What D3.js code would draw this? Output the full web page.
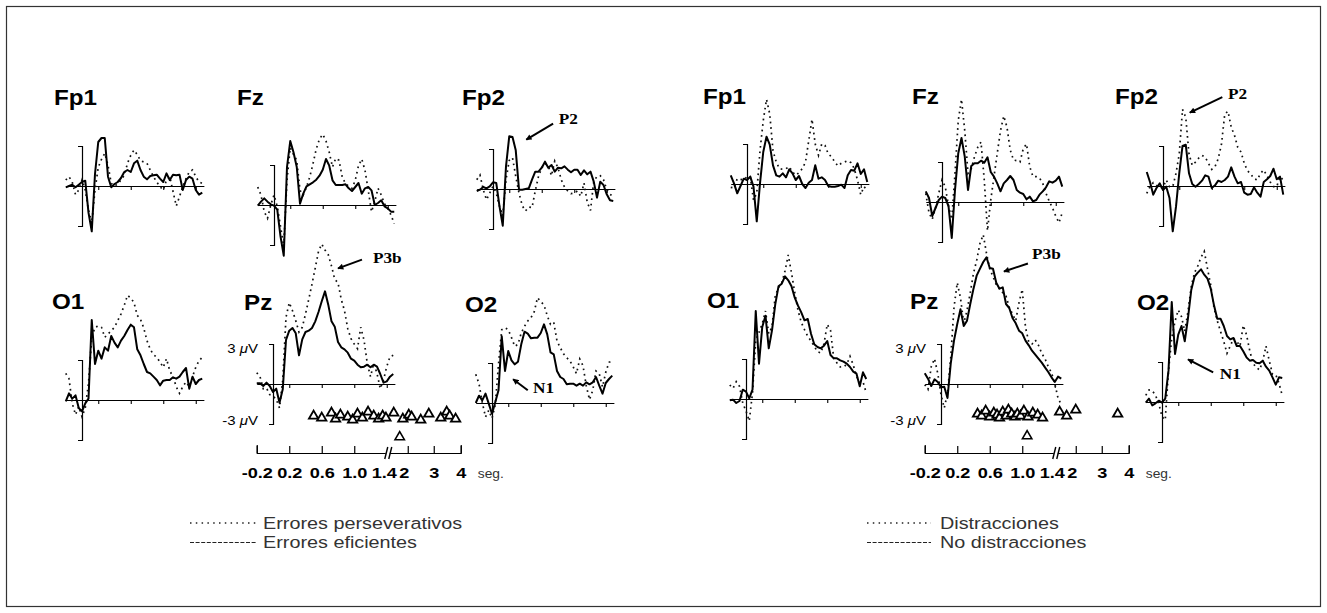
<!DOCTYPE html>
<html>
<head>
<meta charset="utf-8">
<script src="https://cdn.jsdelivr.net/npm/d3@7"></script>
<style>
  body { margin: 0; background: #fff; }
  svg { display: block; }
</style>
</head>
<body>
<script>
// sample times of the averaged waveforms (s)
var sampleTimes = [-0.2,-0.16,-0.12,-0.08,-0.04,0,0.04,0.08,0.12,0.16,0.2,0.24,0.28,0.32,0.36,0.4,0.44,0.48,0.52,0.56,0.6,0.64,0.68,0.72,0.76,0.8,0.84,0.88,0.92,0.96,1.0,1.04,1.08,1.12,1.16,1.2,1.24,1.28,1.32,1.36,1.4,1.44,1.48];

// left figure: errores perseverativos (dotted) / errores eficientes (solid), in microvolts
var leftFp1Dot   = [0.45,0.7,0.3,-0.65,-0.3,0.45,-0.3,-1.8,-2.8,-0.3,1.4,2.0,2.45,1.55,0.2,0,0.15,0.45,0.8,1.7,2.3,2.7,2.35,1.9,1.8,1.7,1.2,0.7,0.3,-0.05,-0.3,0.45,0.7,-0.4,-1.5,-0.8,-0.05,0.55,1.05,1.2,0.7,0.3,0.2];
var leftFp1Solid = [-0.1,0,0.1,-0.1,0.1,0.3,0.4,-2.0,-3.4,0.9,3.3,3.6,3.6,0.7,-0.1,0.15,0.3,0.6,1.05,1.2,1.05,1.7,1.9,1.2,0.7,0.5,0.75,0.8,0.85,0.55,0.3,0.95,0.45,0.85,0.8,0.85,-0.3,0.45,0.7,0.55,-0.3,-0.65,-0.5];
var leftFzDot    = [1.35,0.75,-0.5,-1.0,0,0.75,-0.1,-1.6,-3.1,1.85,4.3,3.8,3.35,1.1,0.75,1.35,2.1,3.1,4.2,4.95,5.3,4.8,3.95,2.85,3.5,3.35,2.1,1.6,1.4,1.25,1.85,2.95,3.45,2.6,1.1,-0.5,0.25,1.25,0.75,0.1,-0.25,-0.75,-1.4];
var leftFzSolid  = [-0.05,0.25,0.5,0.25,0.05,-0.05,-0.35,-2.35,-3.8,2.85,4.8,3.95,2.85,0.1,0.85,1.4,1.55,1.7,1.9,2.2,2.65,3.45,2.95,1.85,1.5,1.5,1.5,1.55,1.25,1.05,1.35,1.65,0.85,1.25,1.35,1.1,0,0.15,0.35,-0.1,-0.25,-0.5,-0.5];
var leftFp2Dot   = [0.7,1.05,-0.05,-0.8,-0.3,0.2,-0.3,-1.3,-2.0,0.7,2.15,2.35,0.95,-0.3,-1.25,-1.65,-1.35,-1.4,-0.15,0.95,1.6,1.9,1.75,1.0,2.1,1.6,0.7,0.15,-0.15,-0.35,-0.3,-0.15,-0.55,0.45,-1.0,-1.6,0.55,0.95,1.0,0.7,-0.05,-0.4,-0.55];
var leftFp2Solid = [-0.15,-0.05,0.15,0.05,0.2,0.5,0.45,-1.3,-2.75,1.7,3.95,3.9,2.9,-0.05,-0.05,0,0.05,0.7,1.3,1.3,1.6,2.05,1.6,1.8,1.3,1.6,1.55,1.7,1.45,1.25,1.45,1.45,1.05,1.4,1.1,1.3,0.55,-0.65,0.55,0.3,-0.4,-0.85,-0.9];
var leftO1Dot    = [2.0,1.6,-0.25,-1.1,-0.5,-1.25,-0.6,1.25,4.7,5.45,5.55,5.45,4.7,4.95,5.2,5.45,5.95,6.45,7.1,7.85,7.65,7.3,6.35,6.05,5.4,4.45,3.8,3.4,3.2,2.85,2.45,3.1,2.2,1.75,1.0,0.5,1.0,1.35,1.0,1.75,2.45,2.95,3.2];
var leftO1Solid  = [-0.1,0.5,0.1,0.35,-0.6,-0.85,-0.25,0.1,6.0,2.7,3.7,3.1,3.95,3.7,4.8,4.3,3.95,4.45,4.8,5.25,5.65,5.45,3.8,3.35,2.7,2.1,2.0,1.75,1.5,1.1,1.45,1.5,1.5,1.7,1.6,1.75,2.1,2.4,0.85,1.75,1.2,1.5,1.6];
var leftPzDot    = [0.85,0.55,-0.35,-0.3,-0.8,-0.9,-1.15,-1.8,0.3,5.0,6.1,5.5,4.75,3.9,4.25,5.25,6.35,7.5,8.7,9.95,10.5,10.05,9.7,8.85,7.85,7.6,6.35,5.5,4.15,3.4,3.0,2.65,4.25,3.3,1.55,0.55,1.55,0.8,-0.35,0.3,1.3,2.05,2.15];
var leftPzSolid  = [0.05,0.05,-0.15,0.1,-0.15,-0.6,-0.35,-1.4,-0.4,3.3,4.0,4.2,3.8,2.15,3.35,3.9,4.0,4.2,4.7,5.4,6.2,6.95,5.95,4.7,4.3,3.15,2.75,2.6,2.35,1.9,1.75,1.45,1.25,1.3,1.45,1.25,1.45,1.3,0.75,0.1,0.2,0.55,0.75];
var leftO2Dot    = [2.15,1.45,0.05,-1.05,-0.55,-1.15,-0.15,2.9,5.5,5.65,5.5,4.9,4.25,4.4,5.25,5.75,6.15,6.4,6.85,7.9,7.6,7.35,6.55,5.9,6.05,4.65,4.15,3.7,3.4,3.15,2.7,2.2,3.3,2.8,1.3,0.25,0.95,2.4,2.2,1.2,2.3,3.05,3.15];
var leftO2Solid  = [0,0.55,0.2,0.7,-0.05,-0.8,0.05,0.95,5.0,2.4,3.9,3.2,2.9,3.1,4.4,5.35,5.2,4.85,4.9,4.9,5.25,5.9,5.15,3.8,3.65,2.4,1.95,1.8,1.4,1.45,1.45,1.3,1.45,1.3,1.55,1.4,1.55,1.95,1.3,0.7,1.5,1.8,2.05];

// right figure: distracciones (dotted) / no distracciones (solid), in microvolts
var rightFp1Dot   = [-0.25,-0.3,0.4,0.35,0.3,0.55,0.55,-1.2,-0.7,2.5,4.75,6.35,5.25,2.5,1.65,1.15,1.1,1.15,1.3,0.9,0.65,0.85,1.15,1.65,3.25,4.85,3.0,2.15,3.0,2.9,2.25,2.05,1.65,1.35,1.55,1.65,1.75,1.6,1.15,0.3,-0.8,-0.2,-0.45];
var rightFp1Solid = [0.65,0.05,-0.7,-0.15,0.4,0.3,0.55,-0.2,-2.8,0.05,2.4,3.55,2.95,1.4,0.65,0.55,0.8,0.5,1.1,0.8,0.3,0.6,0,-0.3,0.1,0.3,1.4,0.4,0.5,0.3,-0.15,-0.2,-0.2,-0.15,-0.05,-0.3,0.65,1.05,1.0,1.55,0.75,1.1,0.15];
var rightFzDot    = [0.65,-0.8,-1.3,-0.45,0.65,1.65,1.15,-0.3,-1.3,2.15,6.1,7.7,5.35,2.15,2.5,3.4,4.1,4.5,1.65,-2.15,0.15,1.9,3.65,5.35,6.45,5.6,3.9,3.15,3.1,3.0,4.0,4.35,2.65,1.9,1.9,1.8,1.4,0.65,0.05,-0.45,-1.05,-1.55,-0.8];
var rightFzSolid  = [0.8,0.3,-1.05,-0.45,0.15,0.4,0.3,-0.3,-2.7,0.9,3.65,4.8,3.4,0.9,2.7,2.9,2.9,3.1,2.95,3.35,2.25,1.9,1.4,0.8,1.4,1.65,1.95,1.65,0.9,0.7,0.6,0.2,0.4,0.05,0.15,0.55,0.8,1.1,1.55,1.45,1.6,1.9,1.15];
var rightFp2Dot   = [-0.55,-0.05,0.25,0.05,-0.15,-0.1,0.45,-0.05,-0.05,0.95,2.4,5.75,5.15,2.4,1.55,1.8,2.1,2.3,2.15,1.7,1.25,1.45,2.05,3.15,5.4,5.6,4.4,3.8,2.9,2.55,1.7,1.15,0.9,0.55,0.45,0.95,1.2,0.75,0.3,-0.05,-0.05,0.7,0.45];
var rightFp2Solid = [1.05,0.3,-0.65,-0.15,0.2,-0.3,-0.05,-0.9,-3.4,-1.55,0.95,3.0,3.1,0.95,0.15,-0.05,0.15,0.4,0.8,0.7,-0.15,0.05,0.4,0.3,0.45,0.7,1.4,0.7,0.2,0.3,-0.5,-0.65,-0.6,-0.1,-0.5,-0.8,0.3,0.5,0.75,1.3,0.5,0.7,-0.65];
var rightO1Dot    = [1.05,0.8,1.3,0.95,-0.3,-0.9,-1.65,0.45,4.4,5.0,5.65,6.6,4.9,5.4,7.75,8.35,8.7,9.6,10.8,9.45,8.0,6.65,5.75,5.2,4.7,4.35,3.95,3.55,3.45,4.15,5.6,5.15,3.05,2.7,2.4,2.4,2.6,3.2,2.55,1.7,1.25,1.3,0.45];
var rightO1Solid  = [-0.1,-0.05,-0.3,-0.15,0.7,0.55,0.05,0.7,6.6,2.65,5.4,6.25,3.8,5.15,7.1,8.45,8.65,9.2,8.9,8.45,7.6,7.0,6.5,5.9,6.0,4.9,4.1,3.9,3.8,4.0,4.35,3.3,3.05,3.05,2.9,2.8,2.65,2.4,2.05,1.9,0.95,2.0,1.5];
var rightPzDot    = [-0.05,-0.4,1.3,1.9,0.8,-0.8,-1.8,-0.7,2.0,5.75,7.6,6.45,4.55,5.5,6.85,8.3,9.3,10.55,11.2,9.8,8.65,8.05,7.45,7.15,6.85,6.6,5.75,5.25,4.75,6.1,7.1,4.25,3.15,3.0,3.3,2.9,2.3,1.9,1.3,0.85,0.05,-1.05,-1.55];
var rightPzSolid  = [0.8,0.4,-0.15,0.35,0.15,-0.25,-0.2,-1.05,1.55,3.25,4.5,5.6,4.35,4.75,6.0,7.15,8.15,8.65,9.15,9.5,8.7,8.65,7.6,7.15,7.25,6.0,5.7,4.95,4.55,4.0,3.8,3.25,2.9,2.5,2.2,1.9,1.6,1.25,0.9,0.5,0.15,0.55,0.4];
var rightO2Dot    = [0.5,0.9,0.85,0.5,-0.1,-1.1,-1.35,2.35,4.8,6.05,6.9,6.4,5.3,6.8,8.65,9.7,10.2,10.85,11.3,10.0,8.75,7.05,6.1,5.3,4.55,3.65,4.2,4.75,4.55,4.2,5.75,5.05,3.85,2.9,2.6,2.4,3.05,4.2,3.1,2.1,2.05,1.4,0.5];
var rightO2Solid  = [-0.05,0.25,-0.25,-0.1,0.1,-0.05,0.25,2.35,7.5,3.6,5.05,5.7,4.55,6.3,8.4,9.4,9.7,9.95,9.55,9.25,8.5,7.25,6.25,6.25,5.7,4.95,4.7,4.8,4.2,4.2,3.8,3.35,3.1,3.15,2.95,2.9,3.1,2.65,2.35,1.85,1.3,1.85,1.8];

// response times (s) shown as triangles under Pz
var leftRT     = [0.50,0.60,0.72,0.77,0.83,0.92,0.98,1.04,1.10,1.17,1.24,1.30,1.35,1.39,1.60,1.86,2.04,2.15,2.50,2.81,3.26,3.48,3.59,3.81];
var leftRTLow  = [1.77];
var rightRT    = [0.45,0.50,0.55,0.60,0.65,0.69,0.72,0.76,0.80,0.83,0.87,0.91,0.94,0.98,1.02,1.07,1.13,1.19,1.25,1.54,1.74,2.0,3.59];
var rightRTLow = [1.06];

// time axis
var timeTicks = [-0.2,0.2,0.6,1.0,1.4,2,3,4];
var timeTickLabels = ["-0.2","0.2","0.6","1.0","1.4","2","3","4"];

var leftLegend  = ["Errores perseverativos", "Errores eficientes"];
var rightLegend = ["Distracciones", "No distracciones"];

// peak annotations, in (s, µV) of their electrode
var leftNotes = [
  {plot: "Fp2", text: "P2",  tip: [0.41, 3.7],  tail: [0.74, 4.9],  at: [0.81, 4.9]},
  {plot: "Pz",  text: "P3b", tip: [0.80, 8.67], tail: [1.095, 9.33], at: [1.23, 9.1]},
  {plot: "O2",  text: "N1",  tip: [0.26, 1.78], tail: [0.44, 0.96], at: [0.505, 0.74]}
];
var rightNotes = [
  {plot: "Fp2", text: "P2",  tip: [0.33, 5.5],  tail: [0.73, 6.67], at: [0.80, 6.5]},
  {plot: "Pz",  text: "P3b", tip: [0.775, 8.44], tail: [1.07, 9.04], at: [1.12, 9.4]},
  {plot: "O2",  text: "N1",  tip: [0.32, 3.19], tail: [0.63, 2.22], at: [0.71, 1.7]}
];

// layout
var PX_PER_SEC = 81.25;
var PX_PER_3UV = 40;
var SANS = "'Liberation Sans', Arial, Helvetica, sans-serif";
var SERIF = "'Liberation Serif', 'Times New Roman', serif";

var panels = [
  {
    plots: [
      {name: "Fp1", t0: 82,  zero: 186, lx: 54,  ly: 105, dot: leftFp1Dot, solid: leftFp1Solid},
      {name: "Fz",  t0: 274, zero: 205, lx: 237, ly: 105, dot: leftFzDot,  solid: leftFzSolid},
      {name: "Fp2", t0: 493, zero: 189, lx: 462, ly: 105, dot: leftFp2Dot, solid: leftFp2Solid},
      {name: "O1",  t0: 82,  zero: 400, lx: 52,  ly: 309, dot: leftO1Dot,  solid: leftO1Solid},
      {name: "Pz",  t0: 273, zero: 384, lx: 244, ly: 310, dot: leftPzDot,  solid: leftPzSolid, scaleLabels: true},
      {name: "O2",  t0: 492, zero: 403, lx: 465, ly: 312, dot: leftO2Dot,  solid: leftO2Solid}
    ],
    rt: leftRT, rtLow: leftRTLow, rtY: 416, rtLowY: 437, axisY: 453,
    notes: leftNotes, legend: leftLegend, legX1: 190, legX2: 256, legTextX: 263
  },
  {
    plots: [
      {name: "Fp1", t0: 747,  zero: 184, lx: 703,  ly: 104, dot: rightFp1Dot, solid: rightFp1Solid},
      {name: "Fz",  t0: 942,  zero: 202, lx: 912,  ly: 104, dot: rightFzDot,  solid: rightFzSolid},
      {name: "Fp2", t0: 1163, zero: 186, lx: 1115, ly: 104, dot: rightFp2Dot, solid: rightFp2Solid},
      {name: "O1",  t0: 746,  zero: 399, lx: 707,  ly: 308, dot: rightO1Dot,  solid: rightO1Solid},
      {name: "Pz",  t0: 941,  zero: 384, lx: 910,  ly: 309, dot: rightPzDot,  solid: rightPzSolid, scaleLabels: true},
      {name: "O2",  t0: 1162, zero: 402, lx: 1137, ly: 310, dot: rightO2Dot,  solid: rightO2Solid}
    ],
    rt: rightRT, rtLow: rightRTLow, rtY: 414, rtLowY: 436, axisY: 453,
    notes: rightNotes, legend: rightLegend, legX1: 867, legX2: 931, legTextX: 940
  }
];

var svg = d3.select("body").append("svg")
  .attr("width", 1327)
  .attr("height", 613);

svg.append("defs").append("marker")
  .attr("id", "arrowHead")
  .attr("viewBox", "0 0 8 8")
  .attr("refX", 7)
  .attr("refY", 4)
  .attr("markerWidth", 7)
  .attr("markerHeight", 6)
  .attr("markerUnits", "userSpaceOnUse")
  .attr("orient", "auto")
  .append("path")
  .attr("d", "M0,0L8,4L0,8z")
  .attr("fill", "#000");

// frame
svg.append("rect")
  .attr("x", 6.5).attr("y", 6.5)
  .attr("width", 1314).attr("height", 600)
  .attr("fill", "none")
  .attr("stroke", "#333")
  .attr("stroke-width", 1.2);

var jitter = [0, 2, -3, 3, -1, 1, 4, -2, 2, -4, 0, 3];

function drawPlot(p) {
  var g = svg.append("g");
  var x = d3.scaleLinear().domain([0, 1]).range([p.t0, p.t0 + PX_PER_SEC]);
  var y = d3.scaleLinear().domain([0, 3]).range([p.zero, p.zero - PX_PER_3UV]);
  p.x = x; p.y = y;

  // zero line with time ticks
  var xa = d3.scaleLinear().domain([-0.2, 1.5]).range([x(-0.2), x(1.5)]);
  g.append("g")
    .attr("transform", `translate(0,${p.zero})`)
    .attr("stroke-width", 1.1)
    .call(d3.axisBottom(xa).tickValues([0.2, 0.6, 1.0, 1.4]).tickSizeInner(4).tickSizeOuter(0).tickFormat(""));

  // ±3 µV calibration bracket at t = 0
  var yb = d3.scaleLinear().domain([-3, 3]).range([y(-3), y(3)]);
  g.append("g")
    .attr("transform", `translate(${x(0)},0)`)
    .attr("stroke-width", 1.2)
    .call(d3.axisLeft(yb).tickValues([]).tickSizeOuter(4));

  var line = d3.line()
    .x(function(d, i) { return x(sampleTimes[i]); })
    .y(function(d) { return y(d); });

  g.append("path")
    .attr("d", line(p.dot))
    .attr("fill", "none")
    .attr("stroke", "#111")
    .attr("stroke-width", 1.7)
    .attr("stroke-dasharray", "1.7,3.8");

  g.append("path")
    .attr("d", line(p.solid))
    .attr("fill", "none")
    .attr("stroke", "#000")
    .attr("stroke-width", 2)
    .attr("stroke-linejoin", "round");

  g.append("text")
    .attr("transform", `translate(${p.lx},${p.ly}) scale(1.1,1)`)
    .attr("font-family", SANS)
    .attr("font-weight", "bold")
    .attr("font-size", 22)
    .attr("fill", "#000")
    .text(p.name);

  if (p.scaleLabels) {
    [[3, "3 ", 9], [-3, "-3 ", 1]].forEach(function(s) {
      var t = g.append("text")
        .attr("transform", `translate(${x(0) - 15},${y(s[0]) + s[2]}) scale(1.2,1)`)
        .attr("text-anchor", "end")
        .attr("font-family", SANS)
        .attr("font-size", 12.5)
        .attr("fill", "#000");
      t.append("tspan").text(s[1]);
      t.append("tspan").attr("font-style", "italic").text("\u03bc");
      t.append("tspan").text("V");
    });
  }
}

panels.forEach(function(panel) {
  panel.plots.forEach(drawPlot);
  var byName = {};
  panel.plots.forEach(function(p) { byName[p.name] = p; });

  // response-time axis under Pz
  var pz = byName["Pz"];
  var origin = pz.x(-0.2);
  var tScale = d3.scaleLinear()
    .domain([-0.2, 1.4, 2, 3, 4])
    .range([origin, origin + 130, origin + 151, origin + 177, origin + 204]);

  var ax = svg.append("g")
    .attr("transform", `translate(0,${panel.axisY})`)
    .attr("stroke-width", 1.2)
    .call(d3.axisBottom(tScale)
      .tickValues(timeTicks)
      .tickFormat(function(d, i) { return timeTickLabels[i]; })
      .tickSizeInner(-7)
      .tickSizeOuter(-8)
      .tickPadding(14));
  ax.selectAll(".tick").filter(function(d) { return d === 1.4; }).select("line").remove();
  ax.selectAll(".tick text")
    .attr("font-family", SANS)
    .attr("font-weight", "bold")
    .attr("font-size", 15.5)
    .attr("fill", "#000")
    .attr("transform", function(d) {
      var shift = d === 1.4 ? -3 : (d === 2 ? -4 : 0);
      return `translate(${shift},0) scale(1.17,1)`;
    });

  // axis break
  var bx = tScale(1.4);
  svg.append("rect")
    .attr("x", bx - 1).attr("y", panel.axisY - 3)
    .attr("width", 4).attr("height", 6)
    .attr("fill", "#fff");
  [0, 4].forEach(function(o) {
    svg.append("line")
      .attr("x1", bx - 2 + o).attr("y1", panel.axisY + 6)
      .attr("x2", bx + 1 + o).attr("y2", panel.axisY - 6)
      .attr("stroke", "#000").attr("stroke-width", 1.4);
  });

  svg.append("text")
    .attr("transform", `translate(${tScale(4) + 17},${panel.axisY + 25}) scale(1.15,1)`)
    .attr("font-family", SANS)
    .attr("font-size", 12)
    .attr("fill", "#333")
    .text("seg.");

  var tri = d3.symbol().type(d3.symbolTriangle).size(38);
  svg.append("g").selectAll("path")
    .data(panel.rt)
    .enter().append("path")
    .attr("d", tri)
    .attr("transform", function(d, i) { return `translate(${tScale(d)},${panel.rtY + jitter[i % jitter.length]})`; })
    .attr("fill", "#fff")
    .attr("stroke", "#000")
    .attr("stroke-width", 1.8);
  svg.append("g").selectAll("path")
    .data(panel.rtLow)
    .enter().append("path")
    .attr("d", tri)
    .attr("transform", function(d) { return `translate(${tScale(d)},${panel.rtLowY})`; })
    .attr("fill", "#fff")
    .attr("stroke", "#000")
    .attr("stroke-width", 1.6);

  // peak annotations
  panel.notes.forEach(function(n) {
    var p = byName[n.plot];
    svg.append("line")
      .attr("x1", p.x(n.tail[0])).attr("y1", p.y(n.tail[1]))
      .attr("x2", p.x(n.tip[0])).attr("y2", p.y(n.tip[1]))
      .attr("stroke", "#000")
      .attr("stroke-width", 2)
      .attr("marker-end", "url(#arrowHead)");
    svg.append("text")
      .attr("transform", `translate(${p.x(n.at[0])},${p.y(n.at[1])}) scale(1.15,1)`)
      .attr("font-family", SERIF)
      .attr("font-weight", "bold")
      .attr("font-size", 15)
      .attr("fill", "#000")
      .text(n.text);
  });

  // legend
  var styles = [
    {dash: "1.5,4.3", width: 1.5},
    {dash: "4,1.6", width: 1.1}
  ];
  panel.legend.forEach(function(label, i) {
    var ly = 523 + i * 19.5;
    svg.append("line")
      .attr("x1", panel.legX1).attr("x2", panel.legX2)
      .attr("y1", ly).attr("y2", ly)
      .attr("stroke", "#222")
      .attr("stroke-width", styles[i].width)
      .attr("stroke-dasharray", styles[i].dash);
    svg.append("text")
      .attr("transform", `translate(${panel.legTextX},${ly + 5.5}) scale(1.2,1)`)
      .attr("font-family", SANS)
      .attr("font-size", 16.5)
      .attr("fill", "#333")
      .text(label);
  });
});
</script>
</body>
</html>
